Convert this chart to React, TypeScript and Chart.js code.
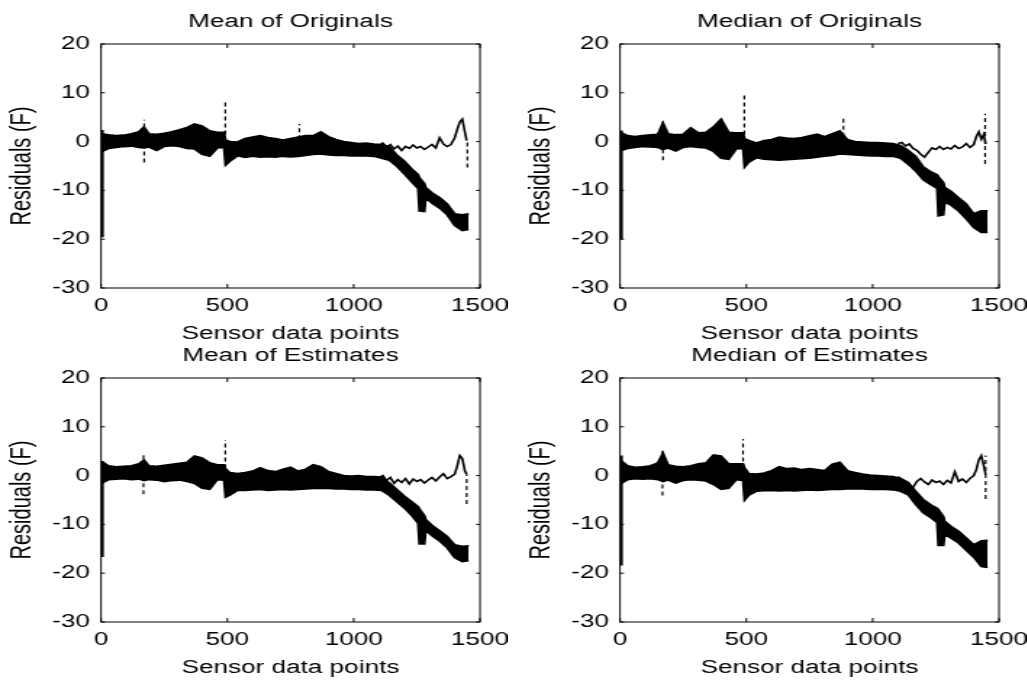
import React, { useEffect, useRef } from "react";
import { Chart, registerables } from "chart.js";

Chart.register(...registerables);

// ---------- text ----------
const panelTitles = ["Mean of Originals", "Median of Originals", "Mean of Estimates", "Median of Estimates"];
const xAxisLabel = "Sensor data points";
const yAxisLabel = "Residuals (F)";
const xTickValues = [0, 500, 1000, 1500];
const yTickValues = [-30, -20, -10, 0, 10, 20];

// ---------- thick band (envelope of the dense residual trace) ----------
const bandX = [5, 30, 60, 90, 120, 150, 170, 190, 220, 250, 280, 310, 340, 370, 400, 430, 460, 487, 493, 510, 540, 570, 600, 630, 660, 690, 720, 750, 780, 810, 840, 870, 900, 930, 960, 990, 1020, 1050, 1080, 1110, 1140, 1170, 1200, 1230, 1255, 1260, 1280, 1285, 1310, 1340, 1370, 1400, 1430, 1455];

const meanOrigUpper = [1.6, 1.4, 1.2, 1.3, 1.6, 2.0, 3.0, 1.6, 1.5, 1.7, 2.0, 2.4, 2.9, 3.6, 3.2, 2.2, 1.9, 1.9, 0.3, 0.0, -0.1, 0.6, 0.9, 1.2, 0.8, 0.6, 0.3, 0.6, 0.9, 1.2, 1.2, 2.0, 1.0, 0.4, 0.0, -0.2, -0.4, -0.3, -0.5, -0.6, -1.0, -2.7, -4.0, -5.6, -6.8, -7.4, -8.6, -9.4, -10.5, -11.5, -12.8, -14.8, -15.0, -14.8];
const meanOrigLower = [-2.0, -1.4, -1.2, -1.0, -0.9, -1.2, -1.3, -1.1, -1.8, -1.0, -0.8, -1.0, -1.4, -1.5, -2.6, -3.0, -1.3, -1.2, -4.8, -4.0, -2.9, -3.2, -3.0, -3.2, -3.1, -3.2, -3.0, -3.1, -3.0, -2.8, -2.6, -2.5, -2.7, -2.8, -2.8, -2.9, -2.9, -2.9, -3.0, -3.4, -3.8, -5.0, -6.6, -8.3, -9.6, -14.2, -14.3, -11.5, -12.6, -13.6, -15.0, -17.2, -18.2, -18.0];

const medianOrigUpper = [1.8, 1.2, 1.0, 1.2, 1.4, 1.5, 3.8, 1.6, 1.4, 1.5, 2.8, 1.8, 1.9, 3.0, 4.6, 1.9, 1.8, 1.8, 0.6, 0.2, -0.3, 0.2, 0.4, 0.9, 0.7, 0.6, 0.8, 1.2, 1.5, 1.0, 1.6, 2.2, 0.4, 0.0, -0.1, -0.2, -0.2, -0.3, -0.4, -0.8, -1.8, -3.0, -5.2, -6.2, -6.8, -7.2, -8.4, -9.4, -10.2, -11.5, -12.8, -14.8, -14.2, -14.2];
const medianOrigLower = [-1.8, -1.4, -1.2, -1.0, -1.1, -1.2, -1.6, -1.3, -1.9, -1.2, -1.0, -1.2, -1.3, -2.0, -3.4, -3.6, -1.5, -1.4, -5.2, -4.2, -3.3, -3.6, -3.7, -3.8, -3.7, -3.6, -3.5, -3.4, -3.2, -3.0, -2.8, -2.5, -2.6, -2.7, -2.8, -2.9, -2.9, -3.0, -3.0, -3.4, -4.6, -6.0, -7.8, -8.8, -9.6, -15.2, -15.0, -12.4, -13.0, -14.2, -15.8, -17.6, -18.6, -18.6];

const meanEstUpper = [2.8, 2.0, 1.8, 1.9, 2.0, 2.4, 3.2, 2.0, 1.9, 2.1, 2.3, 2.5, 2.7, 4.0, 3.6, 2.6, 2.2, 2.2, 1.4, 0.6, 0.4, 0.6, 0.9, 1.6, 1.0, 0.8, 1.3, 1.7, 0.9, 1.3, 2.2, 1.8, 0.8, 0.4, 0.0, -0.1, 0.0, -0.2, -0.2, -0.3, -1.5, -2.8, -4.2, -5.4, -6.4, -6.8, -8.2, -9.0, -10.2, -11.3, -12.5, -14.2, -14.5, -14.4];
const meanEstLower = [-1.5, -0.8, -0.7, -0.6, -0.8, -0.7, -1.0, -0.8, -0.9, -1.2, -1.0, -0.9, -1.2, -1.6, -2.6, -2.8, -0.8, -0.9, -4.4, -4.0, -3.0, -3.0, -2.9, -2.8, -3.0, -2.9, -2.8, -2.9, -2.8, -2.7, -2.6, -2.6, -2.6, -2.7, -2.7, -2.8, -2.8, -2.9, -2.9, -3.0, -4.0, -5.3, -6.6, -8.2, -9.8, -14.0, -14.0, -11.2, -12.3, -13.4, -14.8, -16.8, -17.6, -17.4];

const medianEstUpper = [3.0, 2.0, 1.7, 1.8, 2.0, 2.6, 4.6, 2.2, 1.9, 1.8, 2.0, 2.4, 2.6, 4.2, 4.0, 2.4, 2.4, 2.4, 1.6, 0.4, 0.3, 0.5, 1.0, 1.8, 1.4, 1.5, 1.2, 1.4, 1.2, 1.0, 2.3, 2.7, 1.0, 0.6, 0.3, 0.1, 0.0, -0.1, -0.2, -0.6, -1.4, -3.2, -4.9, -6.0, -6.7, -7.0, -8.4, -9.4, -10.4, -11.4, -12.8, -14.2, -13.4, -13.3];
const medianEstLower = [-1.6, -0.8, -0.6, -0.7, -0.6, -0.8, -1.2, -0.9, -1.5, -1.0, -0.8, -0.9, -1.1, -1.8, -2.8, -2.6, -0.8, -1.0, -5.0, -4.0, -3.2, -3.1, -3.0, -3.1, -3.0, -3.1, -3.0, -2.9, -3.0, -2.9, -2.8, -2.8, -2.7, -2.7, -2.7, -2.8, -2.8, -2.8, -2.9, -3.2, -3.9, -5.9, -7.6, -8.6, -9.6, -14.3, -14.3, -12.0, -12.8, -13.8, -15.3, -16.7, -18.6, -18.8];

// ---------- thin trace that separates after ~1100 ----------
const thinX = [1100, 1115, 1130, 1145, 1160, 1175, 1190, 1205, 1220, 1235, 1250, 1265, 1280, 1295, 1310, 1325, 1340, 1355, 1370, 1385, 1400, 1410, 1420, 1430, 1440, 1447];
const meanOrigThin = [-0.8, -0.3, -1.2, -0.6, -1.5, -0.9, -1.8, -1.0, -1.4, -0.7, -1.3, -1.0, -1.6, -1.1, -0.6, -1.3, 0.8, -0.5, -1.0, -0.6, 0.8, 2.5, 4.0, 4.6, 2.0, 0.2];
const medianOrigThin = [-0.4, -0.2, -0.9, -0.5, -1.4, -1.8, -2.6, -3.2, -2.2, -1.3, -1.6, -1.0, -1.6, -1.2, -1.5, -0.8, -1.4, -1.1, -0.4, -1.2, -0.6, 1.0, 2.0, 0.5, 1.5, -0.5];
const meanEstThin = [-0.5, 0.0, -1.0, -0.4, -1.6, -0.8, -1.4, -0.6, -1.7, -0.7, -1.2, -0.8, -1.5, -0.9, -0.4, -1.1, -0.3, 0.4, -0.6, -0.2, 0.3, 2.0, 4.1, 3.5, 1.0, 0.3];
const medianEstThin = [-0.2, -0.8, -1.6, -2.0, -2.4, -1.2, -0.6, -1.3, -1.8, -0.9, -1.4, -1.1, -1.8, -1.0, -1.5, 0.8, -1.2, -0.7, -1.4, -0.6, 0.0, 1.2, 3.2, 4.1, 2.0, 0.2];

// ---------- dashed vertical spikes ----------
const meanOrigSpikeX = [171, 492, 785, 1450];
const meanOrigSpikeLo = [-4.3, 0.0, 0.5, -5.3];
const meanOrigSpikeHi = [4.5, 8.1, 3.6, 0.2];
const medianOrigSpikeX = [170, 402, 492, 884, 1445];
const medianOrigSpikeLo = [-3.8, 1.0, 0.0, 1.0, -4.6];
const medianOrigSpikeHi = [4.7, 5.3, 9.5, 5.3, 5.7];
const meanEstSpikeX = [168, 492, 1447];
const meanEstSpikeLo = [-3.8, 0.0, -5.8];
const meanEstSpikeHi = [4.8, 7.3, 0.3];
const medianEstSpikeX = [168, 487, 1447];
const medianEstSpikeLo = [-4.1, 0.0, -4.8];
const medianEstSpikeHi = [5.1, 7.5, 4.1];

// ---------- initial drop at the first samples ----------
const startDropX = 5;
const startDropTop = [2.4, 2.3, 3.0, 4.1];
const startDropBottom = [-19.6, -20.0, -16.7, -18.4];

const panels = [
  { upper: meanOrigUpper, lower: meanOrigLower, thin: meanOrigThin, sx: meanOrigSpikeX, slo: meanOrigSpikeLo, shi: meanOrigSpikeHi },
  { upper: medianOrigUpper, lower: medianOrigLower, thin: medianOrigThin, sx: medianOrigSpikeX, slo: medianOrigSpikeLo, shi: medianOrigSpikeHi },
  { upper: meanEstUpper, lower: meanEstLower, thin: meanEstThin, sx: meanEstSpikeX, slo: meanEstSpikeLo, shi: meanEstSpikeHi },
  { upper: medianEstUpper, lower: medianEstLower, thin: medianEstThin, sx: medianEstSpikeX, slo: medianEstSpikeLo, shi: medianEstSpikeHi },
];

// ---------- layout ----------
const SX = 1.45; // horizontal stretch of the original figure
const CW = 350;
const CH = 350;
const BOX_L = 101 / SX;
const BOX_R = 480 / SX;
const BOX_TOP = 44;
const BOX_BOTTOM = 288;
const FONT = "'Liberation Sans', Arial, Helvetica, sans-serif";
const INK = "#000";

const boxPlugin = {
  id: "matlabBox",
  afterDatasetsDraw(chart: any) {
    const { ctx, chartArea, scales } = chart;
    const { left, top, right, bottom } = chartArea;
    ctx.save();
    ctx.strokeStyle = INK;
    ctx.lineWidth = 1;
    ctx.strokeRect(left, top, right - left, bottom - top);
    ctx.beginPath();
    const tx = 4;
    const ty = 4 / SX;
    scales.x.ticks.forEach((t: any) => {
      const px = scales.x.getPixelForValue(t.value);
      ctx.moveTo(px, bottom);
      ctx.lineTo(px, bottom - tx);
      ctx.moveTo(px, top);
      ctx.lineTo(px, top + tx);
    });
    scales.y.ticks.forEach((t: any) => {
      const py = scales.y.getPixelForValue(t.value);
      ctx.moveTo(left, py);
      ctx.lineTo(left + ty, py);
      ctx.moveTo(right, py);
      ctx.lineTo(right - ty, py);
    });
    ctx.stroke();
    // panel title
    const title = chart.options.plugins.panelTitle?.text;
    if (title) {
      ctx.fillStyle = INK;
      ctx.font = `normal 18px ${FONT}`;
      ctx.textAlign = "center";
      ctx.textBaseline = "alphabetic";
      ctx.fillText(title, (left + right) / 2, top - 17);
    }
    ctx.restore();
  },
};

function Panel({ idx, left, top }: { idx: number; left: number; top: number }) {
  const ref = useRef<HTMLCanvasElement | null>(null);
  useEffect(() => {
    const p = panels[idx];
    const pts = (xs: number[], ys: number[]) => xs.map((x, i) => ({ x, y: ys[i] }));
    const datasets: any[] = [
      { data: pts(bandX, p.lower), borderColor: INK, borderWidth: 1.8, pointRadius: 0, fill: false },
      { data: pts(bandX, p.upper), borderColor: INK, borderWidth: 1.8, pointRadius: 0, fill: "-1", backgroundColor: INK },
      { data: pts(thinX, p.thin), borderColor: INK, borderWidth: 1.6, pointRadius: 0, fill: false },
      ...p.sx.map((x: number, i: number) => ({
        data: [{ x, y: p.slo[i] }, { x, y: p.shi[i] }],
        borderColor: INK,
        borderWidth: 1.2,
        pointRadius: 0,
        fill: false,
        borderDash: [4, 3],
      })),
      {
        data: [{ x: startDropX, y: startDropTop[idx] }, { x: startDropX, y: startDropBottom[idx] }],
        borderColor: INK,
        borderWidth: 2.2,
        pointRadius: 0,
        fill: false,
      },
    ];
    const chart = new Chart(ref.current as HTMLCanvasElement, {
      type: "line",
      data: { datasets },
      plugins: [boxPlugin],
      options: {
        responsive: false,
        animation: false,
        devicePixelRatio: 1,
        events: [],
        layout: { padding: { left: 0, top: BOX_TOP, right: CW - BOX_R, bottom: 0 } },
        plugins: {
          legend: { display: false },
          tooltip: { enabled: false },
          title: { display: false },
          panelTitle: { text: panelTitles[idx] },
        },
        scales: {
          x: {
            type: "linear",
            min: 0,
            max: 1500,
            afterBuildTicks: (s: any) => {
              s.ticks = xTickValues.map((v) => ({ value: v }));
            },
            ticks: {
              color: INK,
              font: { family: FONT, size: 18 },
              padding: 7,
              maxRotation: 0,
              autoSkip: false,
              callback: (v: any) => String(v),
            },
            grid: { display: false, drawTicks: false },
            border: { display: false },
            title: {
              display: true,
              text: xAxisLabel,
              color: INK,
              font: { family: FONT, size: 18 },
              padding: { top: 0, bottom: 5.2 },
            },
            afterFit: (s: any) => {
              s.height = CH - BOX_BOTTOM;
              s.paddingLeft = 0;
              s.paddingRight = 0;
            },
          },
          y: {
            type: "linear",
            min: -30,
            max: 20,
            afterBuildTicks: (s: any) => {
              s.ticks = yTickValues.map((v) => ({ value: v }));
            },
            ticks: {
              color: INK,
              font: { family: FONT, size: 18 },
              padding: 7.6,
              autoSkip: false,
              callback: (v: any) => String(v),
            },
            grid: { display: false, drawTicks: false },
            border: { display: false },
            title: {
              display: true,
              text: yAxisLabel,
              color: INK,
              font: { family: FONT, size: 20 },
              padding: { top: 3.9, bottom: 0 },
            },
            afterFit: (s: any) => {
              s.width = BOX_L;
              s.paddingTop = 0;
              s.paddingBottom = 0;
            },
          },
        },
      } as any,
    });
    return () => chart.destroy();
  }, [idx]);
  return (
    <div
      style={{
        position: "absolute",
        left,
        top,
        width: CW,
        height: CH,
        transform: `scaleX(${SX})`,
        transformOrigin: "0 0",
      }}
    >
      <canvas ref={ref} width={CW} height={CH} style={{ width: CW, height: CH, display: "block" }} />
    </div>
  );
}

export default function App() {
  return (
    <div style={{ position: "fixed", left: 0, top: 0, width: 1027, height: 684, background: "#fff", overflow: "hidden" }}>
      <Panel idx={0} left={0} top={0} />
      <Panel idx={1} left={519} top={0} />
      <Panel idx={2} left={0} top={334} />
      <Panel idx={3} left={519} top={334} />
    </div>
  );
}
